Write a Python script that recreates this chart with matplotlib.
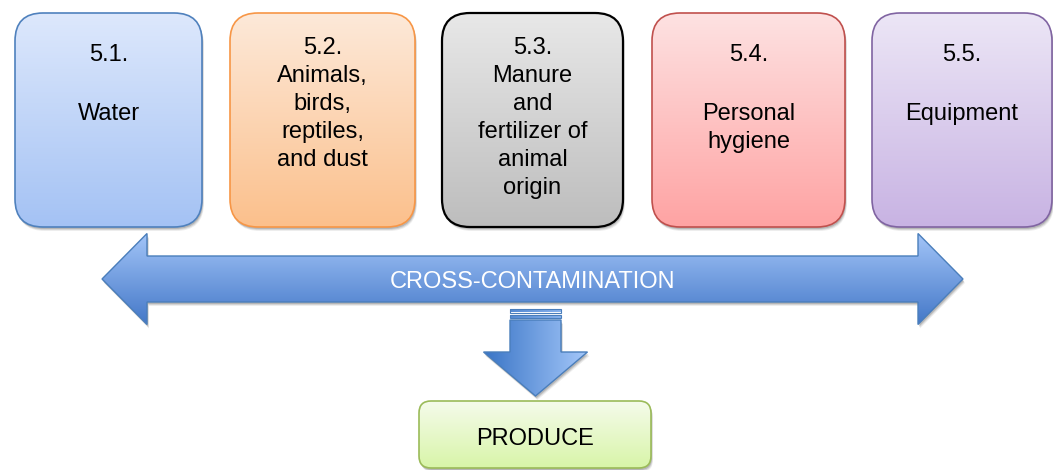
import numpy as np
import matplotlib
matplotlib.use("Agg")
import matplotlib.pyplot as plt
from matplotlib.patches import FancyBboxPatch, Polygon
from matplotlib.colors import to_rgb

plt.rcParams["font.family"] = ["Liberation Sans", "DejaVu Sans"]

# ── Diagram content ───────────────────────────────────────────────────────────
SOURCE_LINES = [
    ["5.1.", "", "Water"],
    ["5.2.", "Animals,", "birds,", "reptiles,", "and dust"],
    ["5.3.", "Manure", "and", "fertilizer of", "animal", "origin"],
    ["5.4.", "", "Personal", "hygiene"],
    ["5.5.", "", "Equipment"],
]
TOP_COLORS = ["#dde8fc", "#fde9d9", "#e8e8e8", "#fde2e2", "#ece6f6"]
BOTTOM_COLORS = ["#a4c2f4", "#fbc08c", "#bdbdbd", "#ffa3a3", "#c8b3e3"]
EDGE_COLORS = ["#4f81bd", "#f79646", "#000000", "#c0504d", "#8064a2"]

ARROW_TEXT = "CROSS-CONTAMINATION"
RESULT_TEXT = "PRODUCE"

# ── Canvas (one data unit = one pixel, y downwards) ──────────────────────────
W, H = 1053, 470
fig = plt.figure(figsize=(W / 100, H / 100), dpi=100)
ax = fig.add_axes([0, 0, 1, 1])
ax.set_xlim(0, W)
ax.set_ylim(H, 0)
ax.axis("off")


def gradient(patch, c0, c1, x0, x1, y0, y1, horizontal=False, z=2):
    a, b = np.array(to_rgb(c0)), np.array(to_rgb(c1))
    t = np.linspace(0, 1, 256)[:, None]
    cols = a + (b - a) * t
    img = cols[None, :, :] if horizontal else cols[:, None, :]
    im = ax.imshow(img, extent=(x0, x1, y1, y0), origin="upper",
                   aspect="auto", interpolation="bilinear", zorder=z)
    im.set_clip_path(patch)


def shadow(make_patch, z=1):
    for off, alpha in [(4, 0.07), (3, 0.10), (2, 0.14)]:
        p = make_patch(off)
        p.set_facecolor("#000000")
        p.set_edgecolor("none")
        p.set_alpha(alpha)
        p.set_zorder(z)
        ax.add_patch(p)


# ── Source boxes ─────────────────────────────────────────────────────────────
box_spans = [(15, 202), (230, 415), (442, 623), (652, 845), (872, 1052)]
box_top, box_bot, radius = 13, 227, 28

for i, lines in enumerate(SOURCE_LINES):
    x0, x1 = box_spans[i]

    def mk(off, x0=x0, x1=x1):
        return FancyBboxPatch((x0 + off * 0.5, box_top + off), x1 - x0,
                              box_bot - box_top,
                              boxstyle=f"round,pad=0,rounding_size={radius}")
    shadow(mk)
    body = mk(0)
    body.set_facecolor("none")
    body.set_edgecolor(EDGE_COLORS[i])
    body.set_linewidth(1.6 if EDGE_COLORS[i] == "#000000" else 1.2)
    body.set_zorder(3)
    ax.add_patch(body)
    gradient(body, TOP_COLORS[i], BOTTOM_COLORS[i], x0, x1, box_top, box_bot)

    cx = (x0 + x1) / 2
    y = box_top + (40 if len(lines) <= 4 else 33)
    for j, line in enumerate(lines):
        if line:
            ax.text(cx, y + 8, line, ha="center", va="baseline",
                    fontsize=17, color="black", zorder=4)
        y += 31 if line == "" else 28

# ── Double-headed arrow ──────────────────────────────────────────────────────
tip_l, tip_r, cy = 102, 963, 279
head_len, head_half, shaft_half = 45, 45.5, 23


def dbl_arrow(off=0):
    v = [(tip_l, cy), (tip_l + head_len, cy - head_half),
         (tip_l + head_len, cy - shaft_half), (tip_r - head_len, cy - shaft_half),
         (tip_r - head_len, cy - head_half), (tip_r, cy),
         (tip_r - head_len, cy + head_half), (tip_r - head_len, cy + shaft_half),
         (tip_l + head_len, cy + shaft_half), (tip_l + head_len, cy + head_half)]
    return Polygon([(px + off * 0.5, py + off) for px, py in v], closed=True)


shadow(dbl_arrow)
arr = dbl_arrow()
arr.set_facecolor("none")
arr.set_edgecolor("#4a7ebb")
arr.set_linewidth(1.0)
arr.set_zorder(3)
ax.add_patch(arr)
gradient(arr, "#a3c5f8", "#4478c8", tip_l, tip_r,
         cy - head_half, cy + head_half)
ax.text((tip_l + tip_r) / 2, cy + 9, ARROW_TEXT, ha="center", va="baseline",
        fontsize=17, color="white", zorder=4)

# ── Down arrow (striped) ─────────────────────────────────────────────────────
dx, s_half, h_half = 535.5, 25.5, 52
shaft_top, head_base, tip_y = 320, 352, 396
stripes = [(309, 312.5), (314.5, 318)]


def down_arrow(off=0):
    v = [(dx - s_half, shaft_top), (dx + s_half, shaft_top),
         (dx + s_half, head_base), (dx + h_half, head_base), (dx, tip_y),
         (dx - h_half, head_base), (dx - s_half, head_base)]
    return Polygon([(px + off * 0.5, py + off) for px, py in v], closed=True)


shadow(down_arrow)
darr = down_arrow()
darr.set_facecolor("none")
darr.set_edgecolor("#4a7ebb")
darr.set_linewidth(1.0)
darr.set_zorder(3)
ax.add_patch(darr)
gradient(darr, "#3a75c6", "#a5c8fa", dx - h_half, dx + h_half,
         shaft_top, tip_y, horizontal=True)
for s0, s1 in stripes:
    st = FancyBboxPatch((dx - s_half, s0), 2 * s_half, s1 - s0,
                        boxstyle="square,pad=0", facecolor="none",
                        edgecolor="#4a7ebb", linewidth=0.8, zorder=3)
    ax.add_patch(st)
    gradient(st, "#3a75c6", "#a5c8fa", dx - h_half, dx + h_half,
             s0, s1, horizontal=True)

# ── Result box ───────────────────────────────────────────────────────────────
rx0, rx1, ry0, ry1 = 419, 651, 401, 468


def res_box(off=0):
    return FancyBboxPatch((rx0 + off * 0.5, ry0 + off), rx1 - rx0, ry1 - ry0,
                          boxstyle="round,pad=0,rounding_size=12")


shadow(res_box)
rb = res_box()
rb.set_facecolor("none")
rb.set_edgecolor("#9bbb59")
rb.set_linewidth(1.2)
rb.set_zorder(3)
ax.add_patch(rb)
gradient(rb, "#f5fbeb", "#d8f5a8", rx0, rx1, ry0, ry1)
ax.text((rx0 + rx1) / 2, 445, RESULT_TEXT, ha="center", va="baseline",
        fontsize=17, color="black", zorder=4)

ax.set_xlim(0, W)
ax.set_ylim(H, 0)
fig.savefig("out.png", dpi=100)
